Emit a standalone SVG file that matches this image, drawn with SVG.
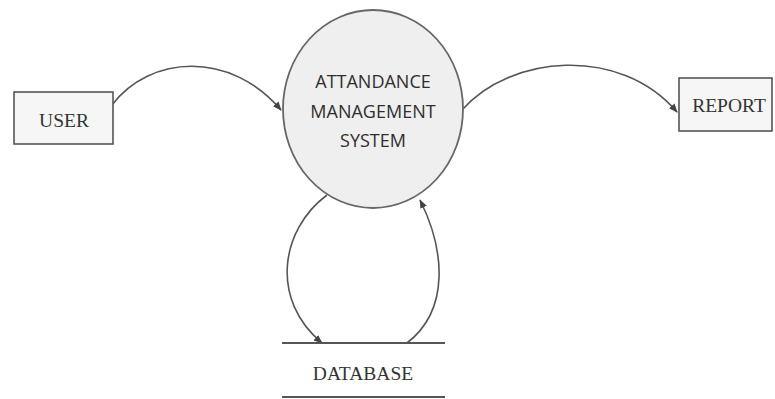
<svg xmlns="http://www.w3.org/2000/svg" width="775" height="399" viewBox="0 0 775 399">
  <style>
    .box { fill: #f6f6f6; stroke: #555; stroke-width: 1.6; }
    .proc { fill: #efefef; stroke: #666; stroke-width: 1.8; }
    .serif { font-family: "Liberation Serif", "Times New Roman", serif; font-size: 19.5px; fill: #333; text-anchor: middle; }
    .sans { font-family: "Open Sans", "Noto Sans", sans-serif; font-size: 18px; fill: #2e2e2e; text-anchor: middle; }
    .flow { fill: none; stroke: #555; stroke-width: 1.6; marker-end: url(#arrow); }
    .store { stroke: #555; stroke-width: 1.8; }
  </style>
  <defs>
    <marker id="arrow" viewBox="0 0 10 10" refX="9" refY="5" markerWidth="9" markerHeight="9" orient="auto" markerUnits="userSpaceOnUse">
      <path d="M0,1 L10,5 L0,9 z" fill="#444"/>
    </marker>
  </defs>
  <rect width="775" height="399" fill="#ffffff"/>

  <!-- data flows -->
  <g id="connectors">
    <path class="flow" d="M112,105 C150,55 230,50 281,110"/>
    <path class="flow" d="M462,110 C510,55 620,45 677,112"/>
    <path class="flow" d="M327,195 C280,230 270,300 322,343"/>
    <path class="flow" d="M407,343 C450,310 445,250 420,200"/>
  </g>

  <g id="user">
    <rect class="box" x="14" y="92" width="99" height="52"/>
    <text class="serif" x="64" y="127">USER</text>
  </g>

  <g id="system">
    <ellipse class="proc" cx="373" cy="109" rx="90" ry="99"/>
    <text class="sans" x="373" y="88">ATTANDANCE</text>
    <text class="sans" x="373" y="118">MANAGEMENT</text>
    <text class="sans" x="373" y="147">SYSTEM</text>
  </g>

  <g id="report">
    <rect class="box" x="679" y="78" width="93" height="53"/>
    <text class="serif" x="729" y="112">REPORT</text>
  </g>

  <g id="database">
    <line class="store" x1="282" y1="343" x2="445" y2="343"/>
    <line class="store" x1="282" y1="397" x2="445" y2="397"/>
    <text class="serif" x="363" y="380">DATABASE</text>
  </g>
</svg>
